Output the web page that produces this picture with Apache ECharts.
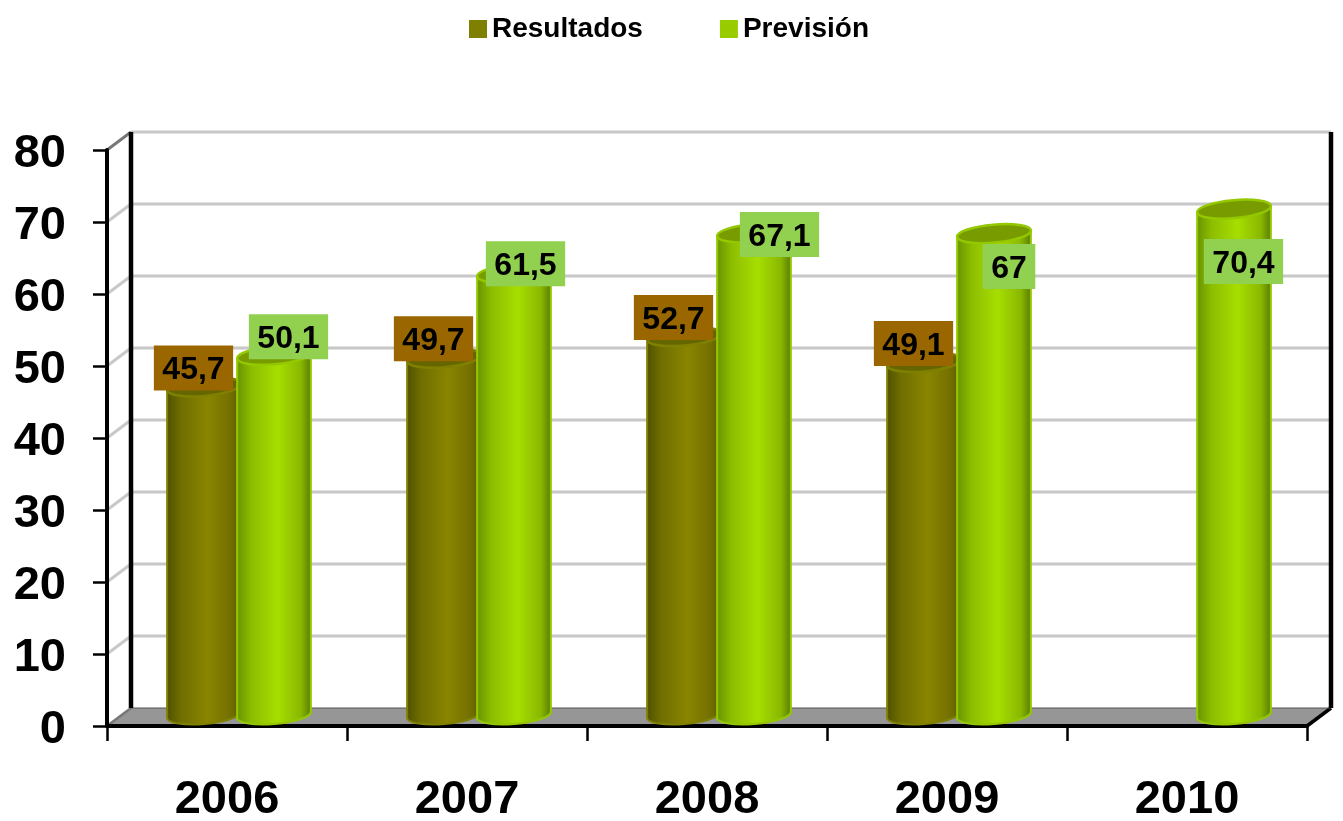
<!DOCTYPE html>
<html>
<head>
<meta charset="utf-8">
<script src="https://cdn.jsdelivr.net/npm/echarts@6/dist/echarts.min.js"></script>
<style>html,body{margin:0;padding:0;background:#fff}#c{width:1343px;height:821px}</style>
</head>
<body>
<div id="c"></div>
<script>
const categories = ['2006', '2007', '2008', '2009', '2010'];
const resultados = [45.7, 49.7, 52.7, 49.1, null];
const prevision = [50.1, 61.5, 67.1, 67, 70.4];
const yTicks = [0, 10, 20, 30, 40, 50, 60, 70, 80];

// layout constants (pixels) — not data
const DEPTH_X = 24, DEPTH_Y = -18, BASE_SHIFT = -10, FOOT_SHIFT = -12, RX = 37, RY = 9, TILT = -5, TEXT_DROP = 2.5;
const resNudge = [[-10.5, -19], [-10.5, -19.5], [-10.5, -19], [-10.5, -19], [0, 0]];
const prevNudge = [[14.5, -18.5], [11.5, -9.5], [25.5, 1.5], [15, 33], [9.5, 52.5]];
const FONT = '"Liberation Sans", Arial, sans-serif';

function renderWall(params, api) {
  const v = api.value(0);
  const band = api.size([1, 0])[0];
  const p = api.coord([0, v]);
  const x0 = p[0] - band / 2, x1 = x0 + band * categories.length, y = p[1];
  const children = [];
  if (v === 0) {
    children.push({
      type: 'polygon',
      shape: { points: [[x0, y], [x1, y], [x1 + DEPTH_X, y + DEPTH_Y], [x0 + DEPTH_X, y + DEPTH_Y]] },
      style: { fill: '#969696', stroke: null }
    });
    children.push({ type: 'line', shape: { x1: x0, y1: y, x2: x0 + DEPTH_X, y2: y + DEPTH_Y }, style: { stroke: '#777', lineWidth: 2.5 } });
    children.push({ type: 'line', shape: { x1: x1, y1: y, x2: x1 + DEPTH_X, y2: y + DEPTH_Y }, style: { stroke: '#000', lineWidth: 3.5 } });
    children.push({ type: 'line', shape: { x1: x0 + DEPTH_X, y1: y + DEPTH_Y, x2: x1 + DEPTH_X, y2: y + DEPTH_Y }, style: { stroke: '#555', lineWidth: 1 } });
    const top = api.coord([0, yTicks[yTicks.length - 1]])[1];
    [x0 + DEPTH_X, x1 + DEPTH_X].forEach(function (xx) {
      children.push({ type: 'line', z2: 5, shape: { x1: xx, y1: top + DEPTH_Y, x2: xx, y2: y + DEPTH_Y }, style: { stroke: '#000', lineWidth: 4.5 } });
    });
  } else {
    const isTop = v === yTicks[yTicks.length - 1];
    children.push({ type: 'line', shape: { x1: x0 + DEPTH_X, y1: y + DEPTH_Y, x2: x1 + DEPTH_X, y2: y + DEPTH_Y }, style: { stroke: '#c8c8c8', lineWidth: 3 } });
    children.push({ type: 'line', shape: { x1: x0, y1: y, x2: x0 + DEPTH_X, y2: y + DEPTH_Y }, style: { stroke: isTop ? '#777' : '#c8c8c8', lineWidth: 3 } });
  }
  return { type: 'group', children: children };
}

function hGrad(stops) {
  return { type: 'linear', x: 0, y: 0, x2: 1, y2: 0, colorStops: stops.map(function (s) { return { offset: s[0], color: s[1] }; }) };
}

function makeCylinder(opts) {
  return function (params, api) {
    const i = api.value(0), v = api.value(1);
    if (v == null || isNaN(v)) return null;
    const band = api.size([1, 0])[0];
    const top = api.coord([i, v]), base = api.coord([i, 0]);
    const cx = top[0] + band * opts.shift;
    const yt = top[1] + BASE_SHIFT, yb = base[1] + FOOT_SHIFT;
    const dy = Math.sin(TILT * Math.PI / 180) * RX;
    const lx = cx - RX, rx = cx + RX;
    const body = 'M' + lx + ' ' + (yt - dy) +
      ' L' + rx + ' ' + (yt + dy) +
      ' L' + rx + ' ' + (yb + dy) +
      ' A' + RX + ' ' + RY + ' ' + TILT + ' 0 1 ' + lx + ' ' + (yb - dy) + ' Z';
    const n = opts.nudge[i];
    const txt = String(v).replace('.', ',');
    return {
      type: 'group',
      children: [
        { type: 'path', shape: { pathData: body, layout: 'cover', x: lx, y: Math.min(yt + dy, yt - dy), width: rx - lx, height: yb + RY + 1 - Math.min(yt + dy, yt - dy) },
          style: { fill: hGrad(opts.stops), stroke: opts.edge, lineWidth: 2 } },
        { type: 'ellipse', rotation: -TILT * Math.PI / 180, originX: cx, originY: yt,
          shape: { cx: cx, cy: yt, rx: RX, ry: RY }, style: { fill: opts.lid, stroke: opts.edge, lineWidth: 2.5 } },
        { type: 'text', z2: 20, x: cx + n[0], y: yt + n[1],
          style: { text: txt, font: 'bold 32px ' + FONT, fill: 'transparent', align: 'center', verticalAlign: 'middle',
            backgroundColor: opts.labelBg, padding: [7, 8.5, 6, 8.5] } },
        { type: 'text', z2: 21, x: cx + n[0], y: yt + n[1] + TEXT_DROP,
          style: { text: txt, font: 'bold 32px ' + FONT, fill: '#000', align: 'center', verticalAlign: 'middle' } }
      ]
    };
  };
}

const olive = {
  shift: -23 / 240, nudge: resNudge, edge: '#808000', lid: '#666600', labelBg: '#996600',
  stops: [[0, '#4f4f00'], [0.2, '#6f6f00'], [0.55, '#8a8500'], [0.85, '#737000'], [1, '#565600']]
};
const lime = {
  shift: 47 / 240, nudge: prevNudge, edge: '#94c800', lid: '#789c00', labelBg: '#92d050',
  stops: [[0, '#669000'], [0.2, '#8dbd00'], [0.55, '#a6de00'], [0.85, '#8ab800'], [1, '#557800']]
};

const chart = echarts.init(document.getElementById('c'));
chart.setOption({
  animation: false,
  backgroundColor: '#ffffff',
  legend: {
    left: 464, top: 10, itemWidth: 18, itemHeight: 18, itemGap: 77, icon: 'rect',
    data: ['Resultados', 'Previsión'],
    textStyle: { fontFamily: FONT, fontWeight: 'bold', fontSize: 28, color: '#000' }
  },
  grid: { left: 107, right: 36, top: 150, bottom: 95, outerBoundsMode: 'none' },
  xAxis: {
    type: 'category', data: categories, z: 6,
    axisLine: { lineStyle: { color: '#000', width: 4 } },
    axisTick: { show: true, length: 15, alignWithLabel: false, lineStyle: { color: '#000', width: 2.5 } },
    axisLabel: { fontFamily: FONT, fontWeight: 'bold', fontSize: 47, color: '#000', margin: 51 },
    splitLine: { show: false }
  },
  yAxis: {
    type: 'value', min: 0, max: 80, interval: 10, z: 6,
    axisLine: { show: true, lineStyle: { color: '#000', width: 4 } },
    axisTick: { show: true, length: 14, lineStyle: { color: '#000', width: 2.5 } },
    axisLabel: { fontFamily: FONT, fontWeight: 'bold', fontSize: 47, color: '#000', margin: 41, verticalAlign: 'top', lineHeight: 9 },
    splitLine: { show: false }
  },
  series: [
    { type: 'custom', name: 'wall', z: 1, silent: true, renderItem: renderWall, data: yTicks.map(function (t) { return [t]; }), encode: { y: 0 } },
    { type: 'custom', name: 'Resultados', z: 8, itemStyle: { color: '#808000' }, renderItem: makeCylinder(olive),
      data: resultados.map(function (v, i) { return [i, v]; }), encode: { x: 0, y: 1 } },
    { type: 'custom', name: 'Previsión', z: 9, itemStyle: { color: '#99cc00' }, renderItem: makeCylinder(lime),
      data: prevision.map(function (v, i) { return [i, v]; }), encode: { x: 0, y: 1 } }
  ]
});
</script>
</body>
</html>
